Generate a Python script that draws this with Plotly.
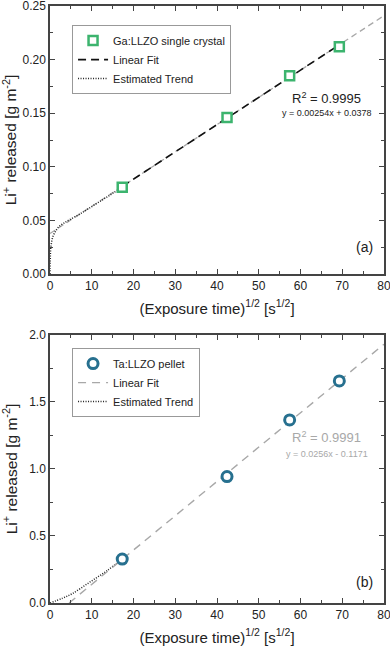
import plotly.graph_objects as go

# measured points: sqrt of exposure time [s^1/2]
x_time = [17.3, 42.4, 57.4, 69.3]
ga_y = [0.081, 0.146, 0.185, 0.212]
ta_y = [0.328, 0.943, 1.366, 1.657]

# linear fits
ga_fit_full_x = [0, 80]
ga_fit_full_y = [0.0378, 0.2410]
ga_fit_x = [17.3, 69.3]
ga_fit_y = [0.0817, 0.2138]
ta_fit_x = [4.57, 80]
ta_fit_y = [0.0, 1.931]

# estimated trend below first point
ga_trend_x = [0, 0.05, 0.2, 0.7, 1.5, 2.2, 3.3, 4.6, 7, 9.5, 12.6, 15, 17.3]
ga_trend_y = [0, 0.012, 0.025, 0.035, 0.041, 0.0443, 0.0475, 0.0505, 0.0556, 0.0617, 0.0693, 0.0752, 0.081]
ta_trend_x = [0, 3, 5.4, 9.5, 13.6, 17.3]
ta_trend_y = [0, 0.036, 0.071, 0.155, 0.24, 0.328]

GREEN = "#3cb46e"
BLUE = "#27708f"
GRAY = "#a8a8a8"
FONT = "Arial, Liberation Sans, sans-serif"

fig = go.Figure()

# ---- panel (a)
fig.add_trace(go.Scatter(x=ga_fit_full_x, y=ga_fit_full_y, mode="lines",
                         line=dict(color=GRAY, width=1.3, dash="6px,4px"),
                         showlegend=False, xaxis="x", yaxis="y"))
fig.add_trace(go.Scatter(x=ga_trend_x, y=ga_trend_y, mode="lines", name="Estimated Trend",
                         line=dict(color="#222", width=1.5, dash="1px,1.5px", shape="spline"),
                         legend="legend", legendrank=3, xaxis="x", yaxis="y"))
fig.add_trace(go.Scatter(x=ga_fit_x, y=ga_fit_y, mode="lines", name="Linear Fit",
                         line=dict(color="#111", width=1.6, dash="8px,5px"),
                         legend="legend", legendrank=2, xaxis="x", yaxis="y"))
fig.add_trace(go.Scatter(x=x_time, y=ga_y, mode="markers", name="Ga:LLZO single crystal",
                         marker=dict(symbol="square", size=9, color="white",
                                     line=dict(color=GREEN, width=2.5)),
                         legend="legend", legendrank=1, xaxis="x", yaxis="y"))

# ---- panel (b)
fig.add_trace(go.Scatter(x=ta_trend_x, y=ta_trend_y, mode="lines", name="Estimated Trend",
                         line=dict(color="#222", width=1.5, dash="1px,1.5px", shape="spline"),
                         legend="legend2", legendrank=3, xaxis="x2", yaxis="y2"))
fig.add_trace(go.Scatter(x=ta_fit_x, y=ta_fit_y, mode="lines", name="Linear Fit",
                         line=dict(color=GRAY, width=1.4, dash="8px,6px"),
                         legend="legend2", legendrank=2, xaxis="x2", yaxis="y2"))
fig.add_trace(go.Scatter(x=x_time, y=ta_y, mode="markers", name="Ta:LLZO pellet",
                         marker=dict(symbol="circle", size=10, color="white",
                                     line=dict(color=BLUE, width=3)),
                         legend="legend2", legendrank=1, xaxis="x2", yaxis="y2"))

axis_common = dict(
    showline=True, linecolor="#444", linewidth=1.5, mirror="allticks",
    ticks="inside", ticklen=5, tickwidth=1.2, tickcolor="#444",
    showgrid=False, zeroline=False, automargin=False, ticklabeloverflow="allow",
    tickfont=dict(family=FONT, size=12, color="#222"),
)
minor_common = dict(ticks="inside", ticklen=3, tickcolor="#444", tickwidth=1)

xtitle = "(Exposure time)<sup>1/2</sup> [s<sup>1/2</sup>]"
ytitle = "Li<sup>+</sup> released [g m<sup>-2</sup>]"

fig.update_layout(
    width=390, height=646,
    margin=dict(l=50, r=6, t=6, b=43),
    paper_bgcolor="white", plot_bgcolor="white",
    font=dict(family=FONT, color="#222"),
    xaxis=dict(axis_common, domain=[0, 1], anchor="y", range=[0, 80], dtick=10,
               minor=dict(minor_common, dtick=5),
               title=dict(text=xtitle, font=dict(size=15), standoff=11)),
    yaxis=dict(axis_common, domain=[0.551, 1], anchor="x", range=[0, 0.25], dtick=0.05,
               tickformat=".2f", minor=dict(minor_common, dtick=0.025),
               title=dict(text=ytitle, font=dict(size=15.5), standoff=6)),
    xaxis2=dict(axis_common, domain=[0, 1], anchor="y2", range=[0, 80], dtick=10,
                minor=dict(minor_common, dtick=5),
                title=dict(text=xtitle, font=dict(size=15), standoff=11)),
    yaxis2=dict(axis_common, domain=[0, 0.449], anchor="x2", range=[0, 2.0], dtick=0.5,
                tickformat=".1f", minor=dict(minor_common, dtick=0.25),
                title=dict(text=ytitle, font=dict(size=15.5), standoff=14)),
    legend=dict(x=0.066, y=0.968, xanchor="left", yanchor="top",
                bordercolor="#999", borderwidth=1, bgcolor="white",
                font=dict(size=11, color="#222"), tracegroupgap=0),
    legend2=dict(x=0.066, y=0.427, xanchor="left", yanchor="top",
                 bordercolor="#999", borderwidth=1, bgcolor="white",
                 font=dict(size=11, color="#222"), tracegroupgap=0),
    annotations=[
        dict(x=66.3, y=0.164, xref="x", yref="y", text="R<sup>2</sup> = 0.9995",
             showarrow=False, font=dict(size=13, color="#222")),
        dict(x=66.3, y=0.150, xref="x", yref="y", text="y = 0.00254x + 0.0378",
             showarrow=False, font=dict(size=9, color="#222")),
        dict(x=75.4, y=0.025, xref="x", yref="y", text="(a)",
             showarrow=False, font=dict(size=14, color="#222")),
        dict(x=66.3, y=1.24, xref="x2", yref="y2", text="R<sup>2</sup> = 0.9991",
             showarrow=False, font=dict(size=13, color=GRAY)),
        dict(x=66.3, y=1.11, xref="x2", yref="y2", text="y = 0.0256x - 0.1171",
             showarrow=False, font=dict(size=9, color=GRAY)),
        dict(x=75.4, y=0.157, xref="x2", yref="y2", text="(b)",
             showarrow=False, font=dict(size=14, color="#222")),
    ],
)

# page body has a default 8px margin that pushes the 646px figure into a scrollbar
fig.write_html("out.html", config={"displayModeBar": False},
               post_script="document.body.style.margin='0';document.body.style.overflow='hidden';")
